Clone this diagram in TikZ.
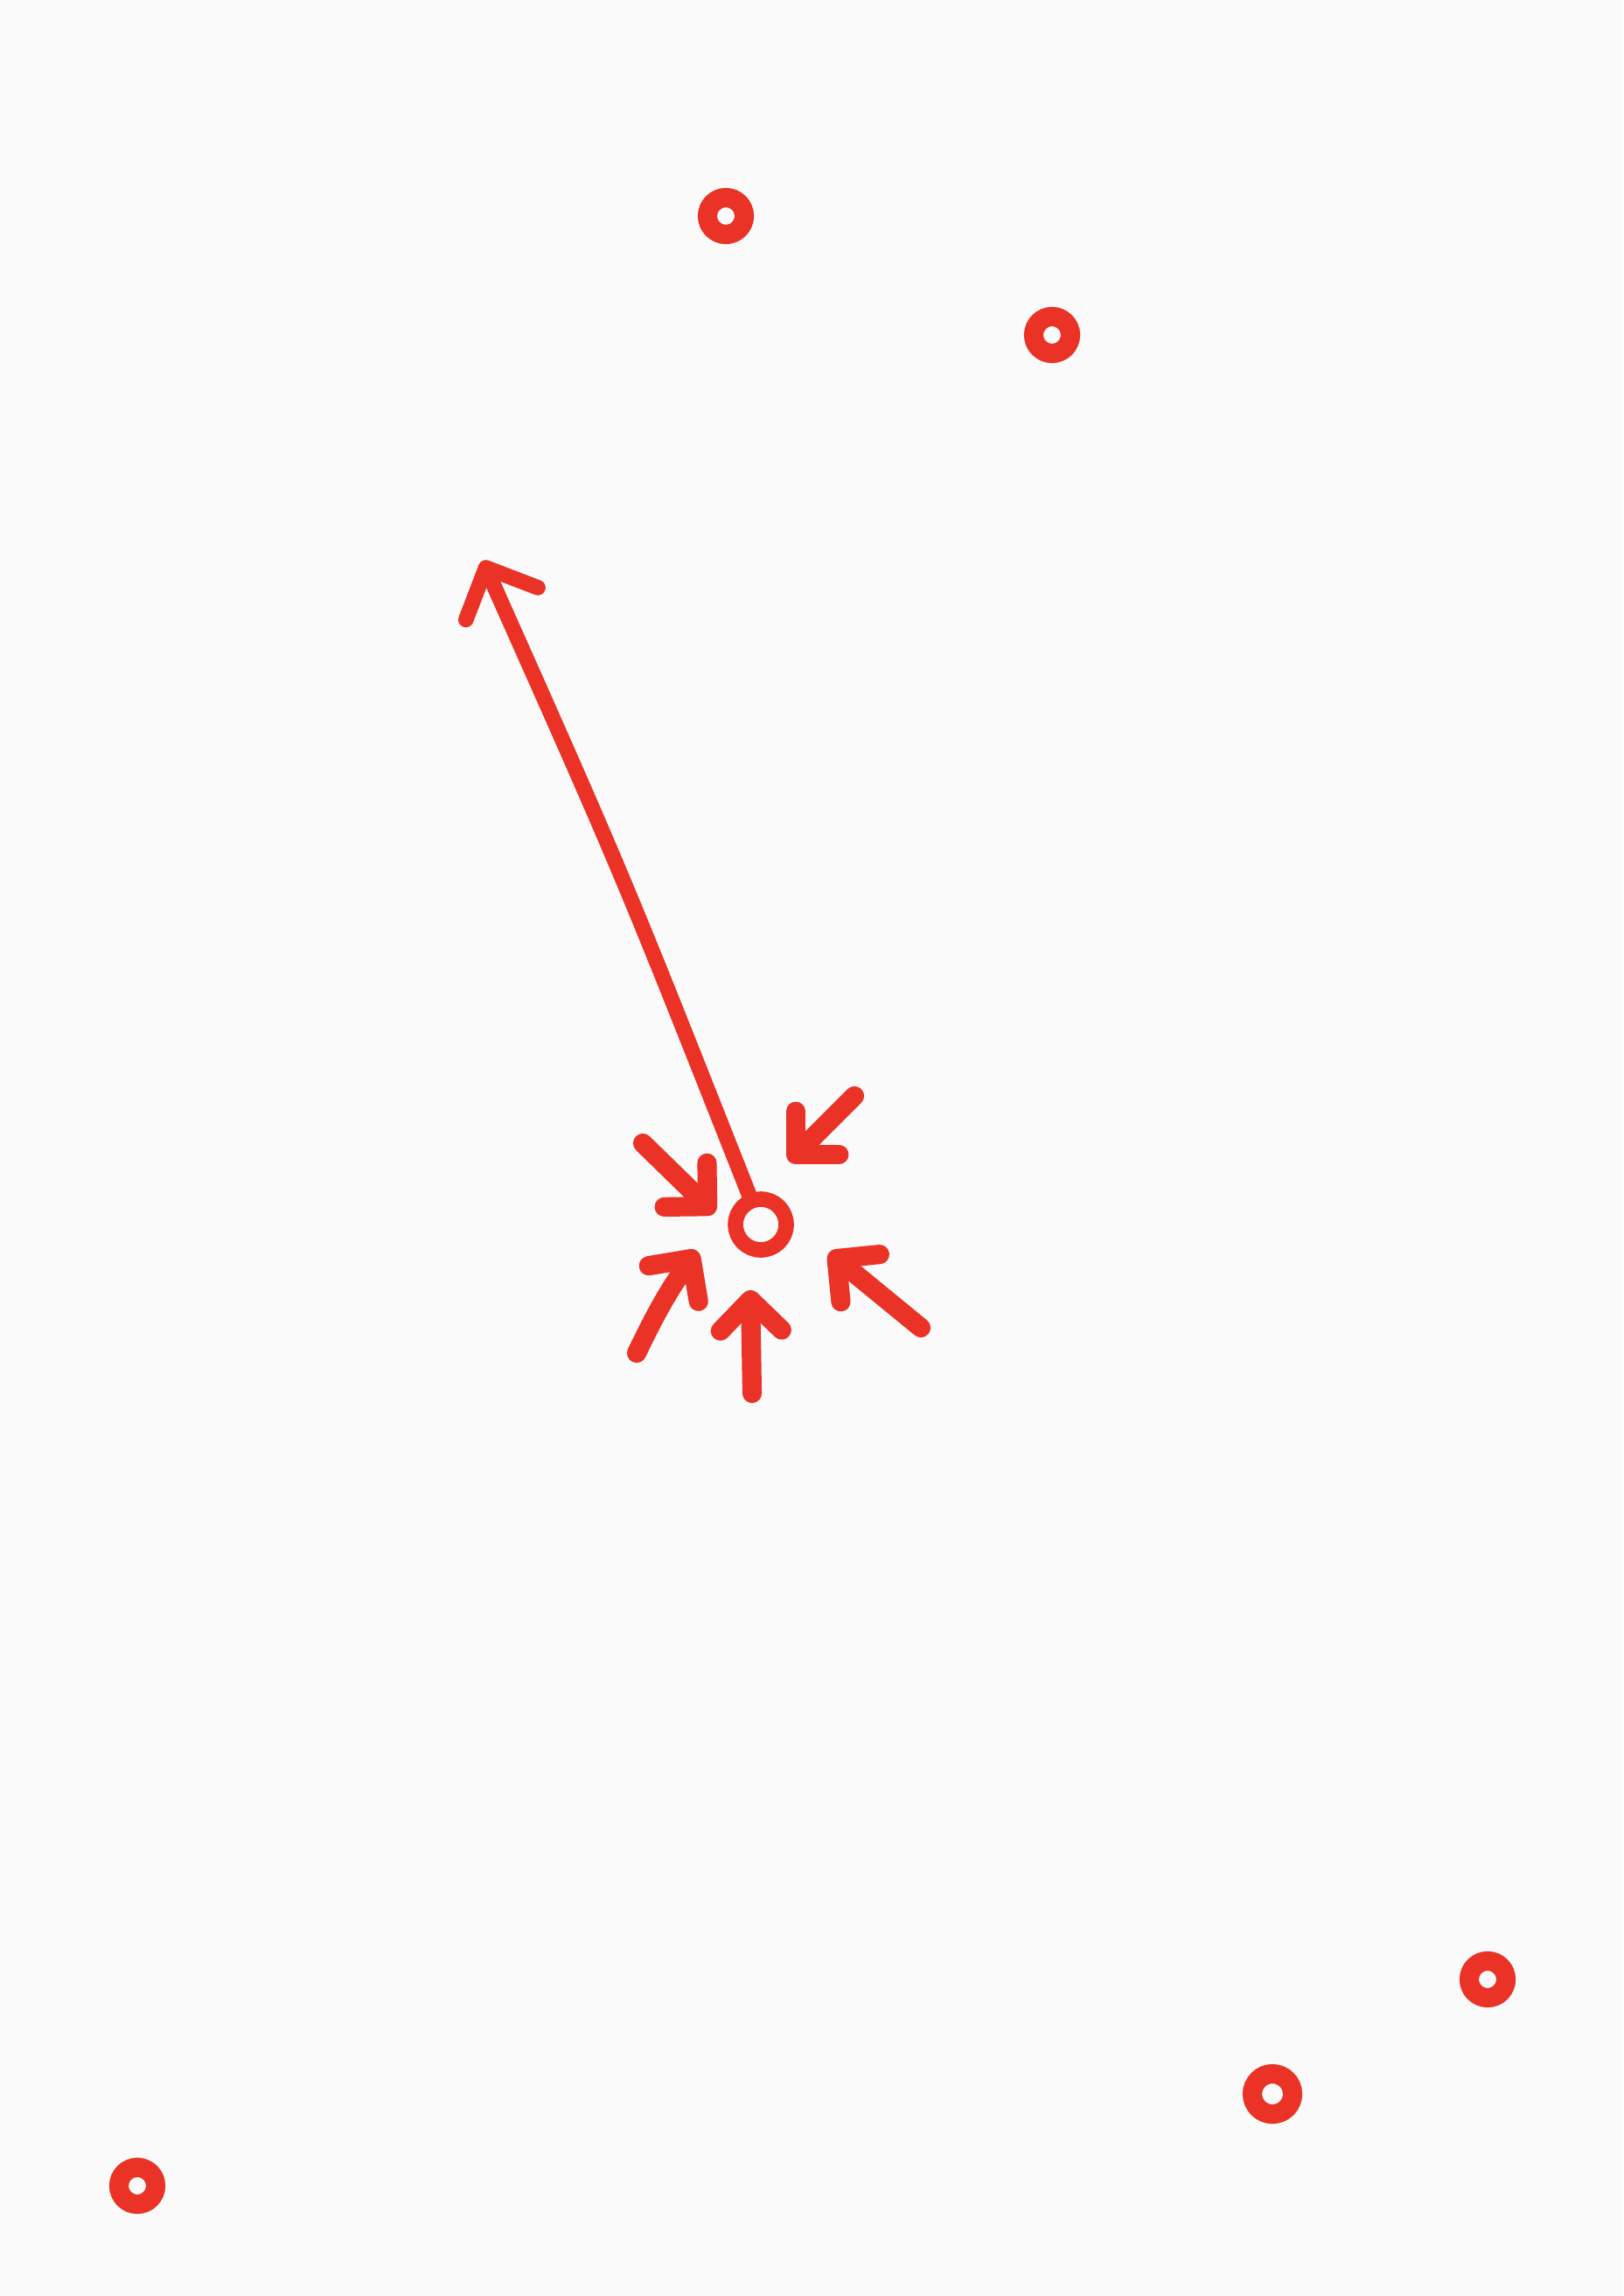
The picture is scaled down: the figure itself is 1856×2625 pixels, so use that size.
\documentclass[tikz,border=0pt]{standalone}
\usepackage{tikz}
\usetikzlibrary{arrows.meta}

\definecolor{inkred}{RGB}{234,50,38}
\definecolor{paper}{RGB}{250,250,250}

\begin{document}
\begin{tikzpicture}[
  x=0.01cm, y=-0.01cm,
  dot/.style={circle, draw=inkred, line width=6.3pt, inner sep=0pt, minimum size=0.42cm},
  hubdot/.style={circle, draw=inkred, line width=5pt, inner sep=0pt, minimum size=0.58cm},
  push/.style={-{Straight Barb[length=4.5mm, width=9mm, round]}, draw=inkred, line width=5pt, line cap=round},
  press/.style={-{Straight Barb[length=3.5mm, width=7mm, round]}, draw=inkred, line width=6.3pt, line cap=round}
]
% page
\fill[paper] (0,0) rectangle (1856,2625);
\useasboundingbox (0,0) rectangle (1856,2625);

% scattered points
\node[dot] (p1) at (830,247) {};
\node[dot] (p2) at (1203,383) {};
\node[dot] (p3) at (1701,2263) {};
\node[dot, minimum width=0.38cm, minimum height=0.46cm] (p4) at (1455,2394) {};
\node[dot] (p5) at (157,2499) {};

% the pushed point
\node[hubdot] (hub) at (870,1400) {};

\coordinate (far) at (552,641);
\draw[push] (hub) .. controls (712,1000) .. (far);

% inward pushes
\coordinate (t1) at (977,1253);  \coordinate (h1) at (902,1328);
\coordinate (t2) at (735,1307);  \coordinate (h2) at (817,1387);
\coordinate (t3) at (728,1547);  \coordinate (h3) at (797,1430);
\coordinate (t4) at (860,1593);  \coordinate (h4) at (858,1475);
\coordinate (t5) at (1053,1518); \coordinate (h5) at (948,1432);

\draw[press] (t1) -- (h1);
\draw[press] (t2) -- (h2);
\draw[press] (t3) to[bend left=5] (h3);
\draw[press] (t4) -- (h4);
\draw[press] (t5) -- (h5);
\end{tikzpicture}
\end{document}
